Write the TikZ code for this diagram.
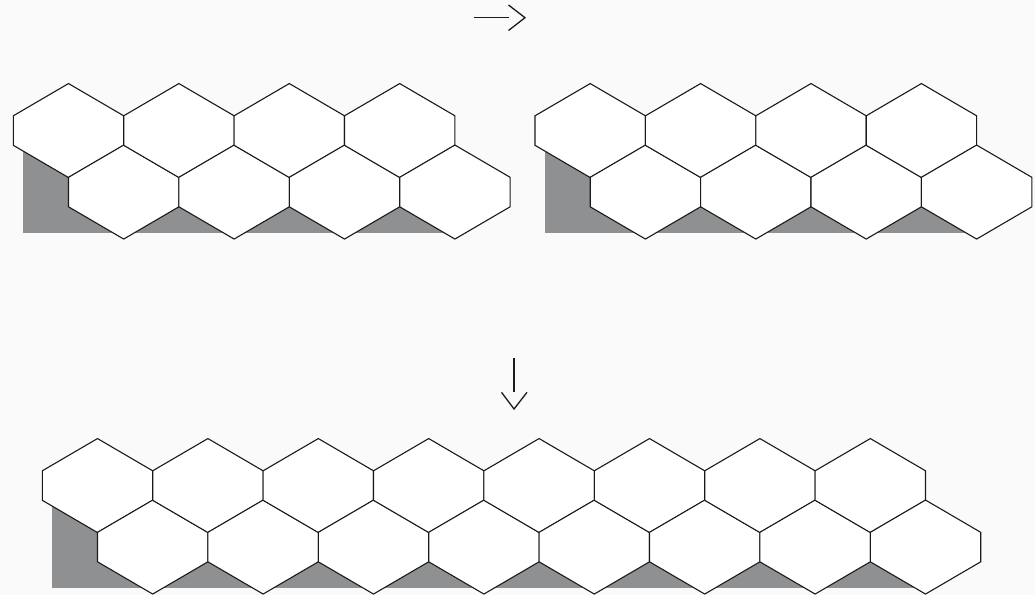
\documentclass[tikz,border=0pt]{standalone}
\definecolor{schatten}{RGB}{142,144,146}
\definecolor{hinter}{RGB}{250,250,250}
\definecolor{kante}{RGB}{26,26,26}
\tikzset{
	wabenlinie/.style={draw=kante,fill=white,line width=1.1,line join=miter},
	pfeil/.style={draw=kante,line width=1.3,line join=miter}
}
% eine Wabe um den Mittelpunkt (#1,#2)
\newcommand{\wabe}[2]{%
	\draw[wabenlinie] (#1,#2) ++(0,-46.75) -- ++(55.2,32.25) -- ++(0,29.5)
	-- ++(-55.2,32.25) -- ++(-55.2,-32.25) -- ++(0,-29.5) -- cycle;
}
% zwei Reihen mit je #3 Waben, erste Wabe bei (#1,#2)
\newcommand{\wabenreihe}[3]{%
	\fill[schatten] (#1-45.5,#2+14.75) rectangle (#1+55.2+#3*110.4-110.4,#2+102.45);
	\foreach \i in {1,...,#3}{
		\wabe{#1+\i*110.4-110.4}{#2}
		\wabe{#1+55.2+\i*110.4-110.4}{#2+61.5}
	}
}
\begin{document}
\begin{tikzpicture}[x={(1pt,0)},y={(0,-1pt)}]
	\fill[hinter] (0,0) rectangle (1035,595);
	\useasboundingbox (0,0) rectangle (1035,595);
	
	\wabenreihe{68.5}{130.3}{4}
	\wabenreihe{590.2}{130.3}{4}
	\wabenreihe{97.5}{485.3}{8}
	
	\coordinate (rechtsA) at (474,17.7);
	\coordinate (rechtsB) at (508.5,17.7);
	\coordinate (rechtsOben) at (508.5,5);
	\coordinate (rechtsSpitze) at (525,17.7);
	\coordinate (rechtsUnten) at (508.5,30.5);
	\draw[pfeil] (rechtsA) -- (rechtsB);
	\draw[pfeil] (rechtsOben) -- (rechtsSpitze) -- (rechtsUnten);
	
	\coordinate (untenA) at (514,358.3);
	\coordinate (untenB) at (514,392);
	\coordinate (untenLinks) at (501.5,392.3);
	\coordinate (untenSpitze) at (514,409);
	\coordinate (untenRechts) at (527,392.3);
	\draw[pfeil] (untenA) -- (untenB);
	\draw[pfeil] (untenLinks) -- (untenSpitze) -- (untenRechts);
	
\end{tikzpicture}
\end{document}
